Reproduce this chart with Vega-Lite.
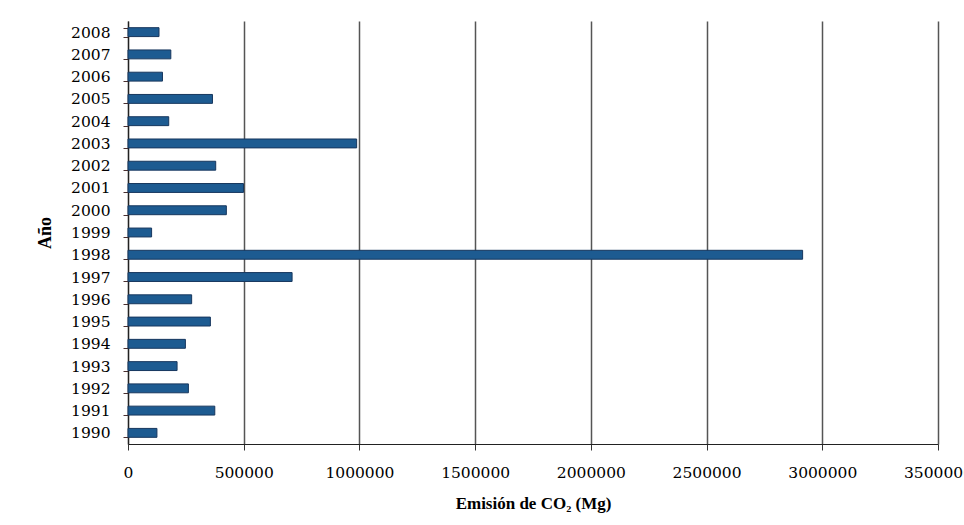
{
  "$schema": "https://vega.github.io/schema/vega-lite/v6.json",
  "width": 810,
  "height": 423,
  "autosize": {"type": "none"},
  "padding": {"left": 128, "top": 21, "right": 26, "bottom": 81},
  "background": "#ffffff",
  "data": {
    "values": [
      {"Año": "1990", "Emision": 125000},
      {"Año": "1991", "Emision": 375000},
      {"Año": "1992", "Emision": 261000},
      {"Año": "1993", "Emision": 212000},
      {"Año": "1994", "Emision": 248000},
      {"Año": "1995", "Emision": 356000},
      {"Año": "1996", "Emision": 275000},
      {"Año": "1997", "Emision": 709000},
      {"Año": "1998", "Emision": 2915000},
      {"Año": "1999", "Emision": 102000},
      {"Año": "2000", "Emision": 425000},
      {"Año": "2001", "Emision": 499000},
      {"Año": "2002", "Emision": 379000},
      {"Año": "2003", "Emision": 988000},
      {"Año": "2004", "Emision": 176000},
      {"Año": "2005", "Emision": 365000},
      {"Año": "2006", "Emision": 149000},
      {"Año": "2007", "Emision": 185000},
      {"Año": "2008", "Emision": 134000}
    ]
  },
  "mark": {"type": "bar", "fill": "#1d5b91", "stroke": "#17375e", "strokeWidth": 1},
  "encoding": {
    "y": {
      "field": "Año",
      "type": "nominal",
      "sort": "descending",
      "scale": {"paddingInner": 0.6, "paddingOuter": 0.3},
      "axis": {
        "title": "Año",
        "titleFont": "Liberation Serif",
        "titleFontSize": 18,
        "titleFontWeight": "bold",
        "titleColor": "#000000",
        "titlePadding": 16,
        "labelFont": "DejaVu Serif",
        "labelFontSize": 15.5,
        "labelColor": "#000000",
        "labelPadding": 13,
        "tickBand": "extent",
        "tickSize": 5,
        "tickColor": "#4a3030",
        "domainColor": "#222222",
        "domainWidth": 1.2,
        "grid": false
      }
    },
    "x": {
      "field": "Emision",
      "type": "quantitative",
      "scale": {"domain": [0, 3500000], "nice": false},
      "axis": {
        "title": "Emisión de CO₂ (Mg)",
        "titleFont": "Liberation Serif",
        "titleFontSize": 17,
        "titleFontWeight": "bold",
        "titleColor": "#000000",
        "titlePadding": 15,
        "values": [0, 500000, 1000000, 1500000, 2000000, 2500000, 3000000, 3500000],
        "format": "d",
        "labelFont": "DejaVu Serif",
        "labelFontSize": 15.5,
        "labelColor": "#000000",
        "labelPadding": 15,
        "labelOverlap": false,
        "labelFlush": false,
        "tickSize": 6,
        "tickColor": "#333333",
        "domainColor": "#222222",
        "domainWidth": 1.2,
        "grid": true,
        "gridColor": "#555555",
        "gridWidth": 1.5
      }
    }
  },
  "config": {"view": {"stroke": null}}
}
